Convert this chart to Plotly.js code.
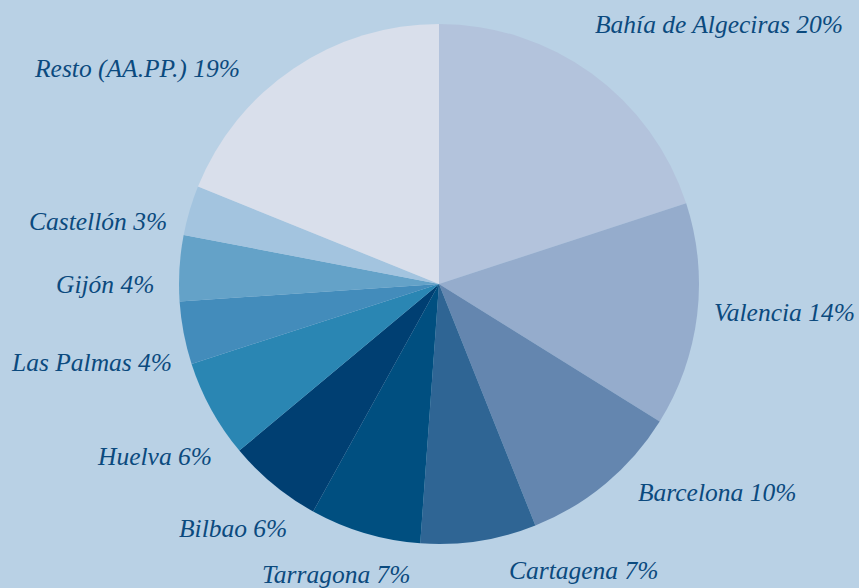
<!DOCTYPE html>
<html>
<head>
<meta charset="utf-8">
<script src="https://cdn.plot.ly/plotly-3.0.1.min.js"></script>
<style>html,body{margin:0;padding:0;background:#b9d1e5;}#chart{width:859px;height:588px;}</style>
</head>
<body>
<div id="chart"></div>
<script>
// Data
const ports = ["Bahía de Algeciras", "Valencia", "Barcelona", "Cartagena", "Tarragona", "Bilbao", "Huelva", "Las Palmas", "Gijón", "Castellón", "Resto (AA.PP.)"];
const shares = [20.0, 13.9, 10.1, 7.2, 6.9, 5.9, 6.1, 3.9, 4.1, 3.1, 18.9];
const sliceColors = ["#b3c3dc", "#95accc", "#6486af", "#2f6594", "#004f80", "#003f72", "#2a86b3", "#438cbb", "#64a2c8", "#a3c4df", "#d9dfeb"];

// Label placement (layout only, paper pixel positions of label centres)
const labelPos = [[719, 25], [784, 312], [717, 492], [583, 570], [336, 574], [233, 528], [154, 456], [91, 362], [105, 284], [98, 222], [137, 68]];

const W = 859, H = 588;
const annotations = ports.map((p, i) => ({
  text: p + " " + Math.round(shares[i]) + "%",
  xref: "paper", yref: "paper",
  x: labelPos[i][0] / W, y: 1 - labelPos[i][1] / H,
  xanchor: "center", yanchor: "middle",
  showarrow: false,
  font: {family: "Liberation Serif", size: 25.5, color: "#0b4a7e", style: "italic"}
}));

const trace = {
  type: "pie",
  labels: ports,
  values: shares,
  sort: false,
  direction: "clockwise",
  rotation: 0,
  marker: {colors: sliceColors, line: {width: 0}},
  textinfo: "none",
  hoverinfo: "none",
  showlegend: false,
  domain: {x: [179 / W, 699 / W], y: [(H - 544) / H, (H - 24) / H]}
};

const layout = {
  width: W, height: H,
  margin: {l: 0, r: 0, t: 0, b: 0},
  paper_bgcolor: "#b9d1e5",
  plot_bgcolor: "#b9d1e5",
  showlegend: false,
  annotations: annotations
};

Plotly.newPlot("chart", [trace], layout, {displayModeBar: false, staticPlot: true});
</script>
</body>
</html>
